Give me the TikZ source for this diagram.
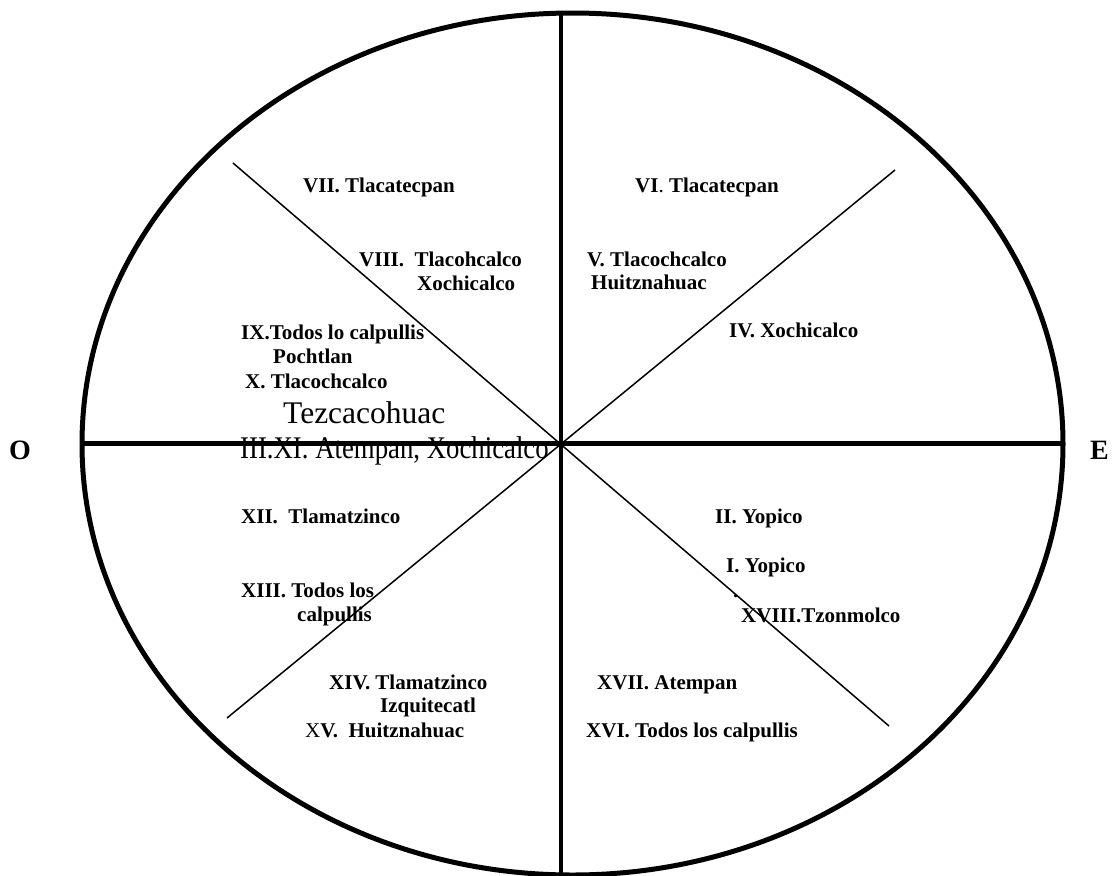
\documentclass[tikz,border=0pt]{standalone}
\usepackage{fontspec}
\setmainfont{Liberation Serif}
\begin{document}
\begin{tikzpicture}[x=1pt,y=-1pt,
  rim/.style={line width=5pt},
  axisline/.style={line width=5pt},
  vaxis/.style={line width=4pt},
  diag/.style={line width=1.5pt},
  lbl/.style={anchor=base west, inner sep=0pt, font=\fontsize{21}{23}\selectfont\bfseries},
  big/.style={anchor=base west, inner sep=0pt, font=\fontsize{31.5}{34}\selectfont},
  cardinal/.style={anchor=base west, inner sep=0pt, font=\fontsize{28}{30}\selectfont\bfseries}]
\useasboundingbox (0,0) rectangle (1112,876);

% outline of the calendar wheel
\draw[rim] (572.5,444) ellipse [x radius=490.5, y radius=431];

% axis end points
\coordinate (W) at (82,443);
\coordinate (Ept) at (1063,443);
\coordinate (N) at (561,13);
\coordinate (S) at (561,876);
\coordinate (NW) at (233,163);
\coordinate (SE) at (889,726);
\coordinate (SW) at (227,718);
\coordinate (NE) at (895,170);

\draw[axisline] (W) -- (Ept);
\draw[vaxis] (N) -- (S);
\draw[diag] (NW) -- (SE);
\draw[diag] (SW) -- (NE);

% cardinal points
\node[cardinal] (o) at (9,459) {O};
\node[cardinal] (e) at (1090,459) {E};

% upper left sector
\node[lbl] (l7) at (303,192) {VII. Tlacatecpan};
\node[lbl] (l8) at (359,266) {VIII.\ \ Tlacohcalco};
\node[lbl] (l8b) at (417,290) {Xochicalco};
\node[lbl] (l9) at (241,339) {IX.Todos lo calpullis};
\node[lbl] (l9b) at (273,363) {Pochtlan};
\node[lbl] (l10) at (245,388) {X. Tlacochcalco};
\node[big] (tez) at (283,423) {Tezcacohuac};
\node[big] (l11) at (240,458) {\scalebox{0.85}[1]{III.XI. Atempan, Xochicalco}};

% upper right sector
\node[lbl] (l6) at (635,192) {VI{\mdseries.} Tlacatecpan};
\node[lbl] (l5) at (587,266) {V. Tlacochcalco};
\node[lbl] (l5b) at (591,289) {Huitznahuac};
\node[lbl] (l4) at (729,337) {IV. Xochicalco};

% lower right sector
\node[lbl] (l2) at (715,523) {II. Yopico};
\node[lbl] (l1) at (726,572) {I. Yopico};
\node[lbl] (dot) at (733,597) {.};
\node[lbl] (l18) at (741,622) {XVIII.Tzonmolco};
\node[lbl] (l17) at (597,689) {XVII. Atempan};
\node[lbl] (l16) at (586,737) {XVI. Todos los calpullis};

% lower left sector
\node[lbl] (l12) at (241,523) {XII.\ \ Tlamatzinco};
\node[lbl] (l13) at (241,597) {XIII. Todos los};
\node[lbl] (l13b) at (297,621) {calpullis};
\node[lbl] (l14) at (329,689) {XIV. Tlamatzinco};
\node[lbl] (l14b) at (380,712) {Izquitecatl};
\node[lbl] (l15) at (305,737) {{\mdseries X}V.\ \ Huitznahuac};
\end{tikzpicture}
\end{document}
